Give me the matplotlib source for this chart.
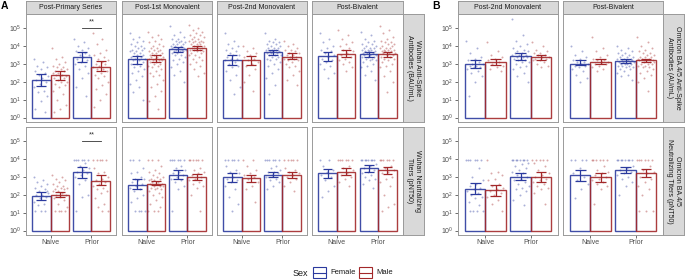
import numpy as np
import matplotlib
matplotlib.use('Agg')
import matplotlib.pyplot as plt
from matplotlib.patches import Rectangle

plt.rcParams['font.family'] = ['Liberation Sans', 'DejaVu Sans']
plt.rcParams['mathtext.default'] = 'regular'

BLUE = '#2B3A9E'
RED = '#A3282A'

groups = ['Naive', 'Prior']
sexes = ['Female', 'Male']

cols_A = ['Post-Primary Series', 'Post-1st Monovalent', 'Post-2nd Monovalent', 'Post-Bivalent']
cols_B = ['Post-2nd Monovalent', 'Post-Bivalent']
rows_A = ['Wuhan Anti-Spike\nAntibodies (BAU/mL)', 'Wuhan Neutralizing\nTiters (pNT50)']
rows_B = ['Omicron BA.4/5 Anti-Spike\nAntibodies (AU/mL)', 'Omicron BA.4/5\nNeutralizing Titers (pNT50)']

# log10 values, order in each row: Naive-F, Naive-M, Prior-F, Prior-M
a_spike_gm = [[2.11, 2.37, 3.39, 2.85], [3.27, 3.30, 3.83, 3.88], [3.23, 3.21, 3.64, 3.41], [3.43, 3.58, 3.56, 3.56]]
a_spike_lo = [[1.77, 2.11, 3.12, 2.61], [3.00, 3.08, 3.67, 3.75], [2.95, 2.95, 3.49, 3.27], [3.17, 3.39, 3.41, 3.41]]
a_spike_hi = [[2.44, 2.61, 3.69, 3.15], [3.45, 3.49, 3.97, 4.01], [3.50, 3.45, 3.79, 3.60], [3.66, 3.75, 3.67, 3.69]]

a_nt_gm = [[1.92, 2.01, 3.25, 2.78], [2.57, 2.63, 3.13, 2.97], [2.97, 2.91, 3.13, 3.10], [3.19, 3.28, 3.47, 3.36]]
a_nt_lo = [[1.68, 1.85, 2.91, 2.52], [2.30, 2.52, 2.89, 2.80], [2.69, 2.69, 3.00, 2.95], [2.95, 3.08, 3.30, 3.15]]
a_nt_hi = [[2.14, 2.18, 3.56, 3.08], [2.86, 2.78, 3.36, 3.17], [3.19, 3.12, 3.28, 3.25], [3.42, 3.47, 3.64, 3.56]]

b_spike_gm = [[3.00, 3.13, 3.45, 3.36], [3.02, 3.13, 3.15, 3.19]]
b_spike_lo = [[2.76, 2.93, 3.23, 3.21], [2.91, 3.00, 3.06, 3.08]]
b_spike_hi = [[3.23, 3.30, 3.60, 3.49], [3.19, 3.28, 3.26, 3.30]]

b_nt_gm = [[2.35, 2.24, 3.00, 2.97], [3.08, 2.98, 3.38, 3.19]]
b_nt_lo = [[2.03, 1.94, 2.82, 2.69], [2.76, 2.72, 3.22, 2.97]]
b_nt_hi = [[2.67, 2.54, 3.22, 3.25], [3.38, 3.22, 3.53, 3.43]]

# individual subjects (log10)
a_spike_pts = [
    [[3.3, 3.1, 2.9, 2.8, 2.7, 2.6, 2.5, 2.4, 2.3, 2.2, 2.1, 2.0, 1.9, 1.7, 1.5, 1.4, 1.2, 0.9, 0.5, 0.3],
     [3.9, 3.4, 3.3, 3.1, 3.0, 2.9, 2.8, 2.8, 2.7, 2.7, 2.6, 2.6, 2.5, 2.5, 2.4, 2.4, 2.3, 2.3, 2.2, 2.2,
      2.1, 2.0, 2.0, 1.9, 1.8, 1.7, 1.5, 1.3, 1.0, 0.7, 0.5, 0.3],
     [4.4, 4.2, 4.0, 3.9, 3.8, 3.7, 3.6, 3.5, 3.5, 3.4, 3.3, 3.2, 3.1, 3.0, 2.9, 2.7, 2.5, 2.2, 1.7, 1.2],
     [4.7, 4.4, 4.1, 3.8, 3.6, 3.5, 3.4, 3.3, 3.2, 3.1, 3.0, 3.0, 2.9, 2.8, 2.7, 2.7, 2.6, 2.5, 2.4, 2.3,
      2.2, 2.0, 1.8, 1.6, 1.3, 1.0, 0.6]],
    [[4.7, 4.5, 4.4, 4.3, 4.2, 4.1, 4.0, 4.0, 3.9, 3.9, 3.8, 3.8, 3.7, 3.7, 3.6, 3.6, 3.5, 3.5, 3.4, 3.4,
      3.3, 3.3, 3.2, 3.2, 3.1, 3.0, 3.0, 2.9, 2.8, 2.7, 2.6, 2.5, 2.3, 2.1, 1.9, 1.7, 1.4, 1.0],
     [4.8, 4.6, 4.5, 4.4, 4.3, 4.2, 4.1, 4.0, 4.0, 3.9, 3.9, 3.8, 3.8, 3.7, 3.7, 3.6, 3.6, 3.6, 3.5, 3.5,
      3.5, 3.4, 3.4, 3.4, 3.3, 3.3, 3.3, 3.2, 3.2, 3.2, 3.1, 3.1, 3.0, 3.0, 2.9, 2.9, 2.8, 2.7, 2.6, 2.5,
      2.4, 2.3, 2.1, 1.9, 1.7, 1.5, 1.2, 0.9, 0.5],
     [5.1, 4.8, 4.6, 4.5, 4.4, 4.4, 4.3, 4.3, 4.2, 4.2, 4.1, 4.1, 4.1, 4.0, 4.0, 4.0, 3.9, 3.9, 3.9, 3.8,
      3.8, 3.8, 3.7, 3.7, 3.7, 3.6, 3.6, 3.5, 3.5, 3.4, 3.3, 3.2, 3.1, 3.0, 2.8, 2.6, 2.4, 2.0],
     [5.2, 5.0, 4.9, 4.8, 4.7, 4.6, 4.6, 4.5, 4.5, 4.4, 4.4, 4.3, 4.3, 4.3, 4.2, 4.2, 4.2, 4.1, 4.1, 4.1,
      4.0, 4.0, 4.0, 3.9, 3.9, 3.9, 3.8, 3.8, 3.8, 3.7, 3.7, 3.6, 3.6, 3.5, 3.5, 3.4, 3.3, 3.2, 3.1, 3.0,
      2.9, 2.7, 2.5, 2.3]],
    [[4.7, 4.3, 4.1, 4.0, 3.9, 3.8, 3.7, 3.6, 3.5, 3.5, 3.4, 3.3, 3.3, 3.2, 3.1, 3.0, 2.9, 2.8, 2.6, 2.4,
      2.1, 1.7, 1.3],
     [4.0, 3.9, 3.7, 3.6, 3.5, 3.4, 3.3, 3.2, 3.1, 3.0, 2.9, 2.7, 2.4, 2.0, 1.5],
     [4.7, 4.4, 4.3, 4.2, 4.2, 4.1, 4.1, 4.0, 4.0, 3.9, 3.9, 3.9, 3.8, 3.8, 3.8, 3.7, 3.7, 3.7, 3.6, 3.6,
      3.6, 3.5, 3.5, 3.5, 3.4, 3.4, 3.3, 3.3, 3.2, 3.1, 3.0, 2.9, 2.7, 2.5, 2.2, 1.8, 1.3],
     [4.3, 4.1, 4.0, 3.9, 3.8, 3.8, 3.7, 3.6, 3.6, 3.5, 3.5, 3.4, 3.4, 3.3, 3.3, 3.2, 3.2, 3.1, 3.0, 2.9,
      2.8, 2.6, 2.4, 2.1, 1.8]],
    [[4.7, 4.4, 4.2, 4.0, 3.9, 3.8, 3.7, 3.6, 3.5, 3.4, 3.3, 3.2, 3.1, 3.0, 2.9, 2.7, 2.5, 2.2],
     [4.9, 4.6, 4.4, 4.2, 4.1, 4.0, 3.9, 3.8, 3.7, 3.6, 3.5, 3.4, 3.3, 3.2, 3.1, 3.0, 2.8, 2.6],
     [4.8, 4.6, 4.4, 4.3, 4.2, 4.1, 4.1, 4.0, 4.0, 3.9, 3.9, 3.9, 3.8, 3.8, 3.8, 3.7, 3.7, 3.7, 3.6, 3.6,
      3.6, 3.5, 3.5, 3.5, 3.4, 3.4, 3.4, 3.3, 3.3, 3.2, 3.2, 3.1, 3.0, 2.9, 2.8, 2.6, 2.4, 2.1],
     [5.1, 4.9, 4.7, 4.5, 4.4, 4.3, 4.2, 4.2, 4.1, 4.1, 4.0, 4.0, 3.9, 3.9, 3.9, 3.8, 3.8, 3.8, 3.7, 3.7,
      3.7, 3.6, 3.6, 3.6, 3.5, 3.5, 3.4, 3.4, 3.3, 3.3, 3.2, 3.1, 3.0, 2.9, 2.8, 2.6, 2.3, 2.0, 1.4]],
]

a_nt_pts = [
    [[3.0, 2.8, 2.7, 2.6, 2.5, 2.4, 2.3, 2.2, 2.1, 2.0, 2.0, 1.9, 1.8, 1.6, 1.5, 1.4, 2.2] + [1.08] * 3,
     [3.1, 3.0, 2.9, 2.8, 2.7, 2.6, 2.5, 2.5, 2.4, 2.4, 2.3, 2.3, 2.2, 2.2, 2.1, 2.0, 2.0, 1.9, 1.8, 1.7,
      1.5, 1.3] + [1.08] * 4,
     [3.97] * 6 + [3.8, 3.6, 3.5, 3.4, 3.3, 3.2, 3.1, 3.0, 2.8, 2.6, 2.0, 1.9, 1.08],
     [3.97] * 5 + [3.5, 3.3, 3.2, 3.0, 2.9, 2.8, 2.7, 2.6, 2.5, 2.4, 2.3, 2.2, 2.1, 1.8, 1.5, 1.3, 1.08, 1.08]],
    [[3.97] * 3 + [3.5, 3.3, 3.2, 3.0, 2.9, 2.9, 2.8, 2.7, 2.6, 2.5, 2.4, 2.3, 2.2, 2.0, 1.8, 1.6] + [1.08] * 4,
     [3.97] * 3 + [3.6, 3.4, 3.3, 3.2, 3.1, 3.0, 3.0, 2.9, 2.9, 2.8, 2.8, 2.7, 2.7, 2.6, 2.6, 2.6, 2.5,
                   2.5, 2.5, 2.4, 2.4, 2.3, 2.3, 2.2, 2.1, 2.0, 1.9, 1.7, 1.5, 1.3] + [1.08] * 3,
     [3.97] * 6 + [3.6, 3.5, 3.4, 3.3, 3.2, 3.1, 3.0, 2.9, 2.8, 2.7, 2.5, 2.3, 1.08],
     [3.97] * 6 + [3.5, 3.4, 3.3, 3.2, 3.1, 3.0, 2.9, 2.8, 2.7, 2.6, 2.5, 2.4, 2.0, 1.08]],
    [[3.97] * 5 + [3.6, 3.4, 3.3, 3.2, 3.0, 2.9, 2.8, 2.7, 2.5, 2.3, 1.9, 1.5, 1.08],
     [3.97] * 2 + [3.6, 3.4, 3.2, 3.1, 3.0, 2.9, 2.7, 2.5, 2.3, 1.6],
     [3.97] * 6 + [3.6, 3.5, 3.4, 3.3, 3.3, 3.2, 3.1, 3.0, 2.9, 2.8, 2.7, 2.5, 2.3],
     [3.97] * 5 + [3.5, 3.4, 3.3, 3.2, 3.1, 3.0, 2.9, 2.7, 2.5, 2.2]],
    [[3.97] * 2 + [3.6, 3.4, 3.3, 3.1, 3.0, 2.8, 2.5, 2.2, 1.9],
     [3.97] * 6 + [3.6, 3.5, 3.4, 3.2, 3.1, 3.0, 2.9, 2.7, 2.5],
     [3.97] * 8 + [3.7, 3.6, 3.5, 3.4, 3.3, 3.2, 3.1, 3.0, 2.9, 2.8, 2.6, 2.4],
     [3.97] * 6 + [3.6, 3.5, 3.4, 3.3, 3.2, 3.0, 2.9, 2.7, 2.5, 2.0, 1.5, 1.3, 1.08]],
]

b_spike_pts = [
    [[4.3, 3.9, 3.6, 3.4, 3.3, 3.2, 3.1, 3.0, 3.0, 2.9, 2.9, 2.8, 2.8, 2.7, 2.6, 2.5, 2.3, 2.0, 1.2],
     [4.2, 3.7, 3.5, 3.4, 3.3, 3.2, 3.1, 3.0, 2.9, 2.8, 2.7, 2.6],
     [5.5, 4.6, 4.3, 4.1, 4.0, 3.9, 3.8, 3.7, 3.7, 3.6, 3.6, 3.5, 3.5, 3.5, 3.4, 3.4, 3.4, 3.3, 3.3, 3.2,
      3.2, 3.1, 3.1, 3.0, 2.9, 2.8, 2.7, 2.5, 2.3, 2.0],
     [4.2, 4.0, 3.8, 3.7, 3.6, 3.6, 3.5, 3.5, 3.4, 3.4, 3.3, 3.3, 3.2, 3.2, 3.1, 3.0, 2.9, 2.8]],
    [[4.0, 3.7, 3.5, 3.4, 3.3, 3.2, 3.1, 3.1, 3.0, 3.0, 2.9, 2.9, 2.8, 2.7, 2.6, 2.4, 2.2, 2.0],
     [4.5, 3.9, 3.7, 3.5, 3.4, 3.3, 3.2, 3.2, 3.1, 3.1, 3.0, 3.0, 2.9, 2.8, 2.7, 2.6],
     [4.0, 3.9, 3.8, 3.7, 3.6, 3.6, 3.5, 3.5, 3.4, 3.4, 3.4, 3.3, 3.3, 3.3, 3.2, 3.2, 3.2, 3.2, 3.1, 3.1,
      3.1, 3.1, 3.0, 3.0, 3.0, 3.0, 2.9, 2.9, 2.9, 2.8, 2.8, 2.7, 2.7, 2.6, 2.5, 2.4, 2.3, 2.1],
     [4.5, 4.2, 4.0, 3.9, 3.8, 3.7, 3.6, 3.6, 3.5, 3.5, 3.4, 3.4, 3.4, 3.3, 3.3, 3.3, 3.2, 3.2, 3.2, 3.1,
      3.1, 3.1, 3.0, 3.0, 3.0, 2.9, 2.9, 2.8, 2.8, 2.7, 2.6, 2.5, 2.4, 2.2, 2.0, 1.5]],
]

b_nt_pts = [
    [[3.97] * 6 + [3.5, 3.0, 2.8, 2.6, 2.5, 2.4, 2.3, 2.2, 2.1, 2.0, 1.9, 1.8, 1.6, 1.4] + [1.08] * 4,
     [3.97, 3.3, 3.2, 3.1, 2.9, 2.8, 2.6, 2.5, 2.4, 2.3, 2.2, 2.1, 2.0, 1.9, 1.7, 1.5, 1.08],
     [3.97] * 8 + [3.8, 3.7, 3.6, 3.5, 3.4, 3.3, 3.2, 3.1, 3.0, 2.9, 2.8, 2.7, 2.6, 2.5, 2.4, 2.3, 2.2,
                   2.0, 1.7, 1.4],
     [3.97] * 5 + [3.8, 3.6, 3.4, 3.2, 3.1, 3.0, 2.9, 2.8, 2.7, 2.6, 2.5, 2.4, 2.3, 2.1, 1.5]],
    [[3.97] * 4 + [3.5, 3.2, 3.0, 2.8, 2.6, 2.3, 1.8],
     [3.97] * 6 + [3.6, 3.4, 3.3, 3.2, 3.1, 3.0, 2.9, 2.8, 2.7, 2.6, 2.5, 2.3, 1.5],
     [3.97] * 8 + [3.6, 3.5, 3.4, 3.3, 3.2, 3.1, 3.0, 2.9, 2.7, 2.5, 2.0],
     [3.97] * 6 + [3.6, 3.4, 3.3, 3.2, 3.0, 2.9, 2.7, 2.5, 2.3, 2.0] + [1.08] * 3],
]

W, H = 685, 280
fig = plt.figure(figsize=(W / 100, H / 100), dpi=100)


def box(x0, y0, x1, y1):
    return [x0 / W, 1 - y1 / H, (x1 - x0) / W, (y1 - y0) / H]


BORDER = '#9A9A9A'
STRIP = '#D9D9D9'
TXT = '#4D4D4D'


def draw_facet(ax, gm, lo, hi, pts, left, bottom):
    xs = [0.775, 1.225, 1.775, 2.225]
    colors = [BLUE, RED, BLUE, RED]
    for k in range(4):
        vals = np.array(pts[k])
        jit = ((np.arange(len(vals)) * 0.618) % 1 - 0.5) * 0.38  # jitter offsets
        ax.scatter(xs[k] + jit, 10 ** vals, s=2.0, color=colors[k], alpha=0.4, lw=0, zorder=1)
        ax.bar(xs[k], 10 ** gm[k] - 1, bottom=1, width=0.45, fill=False,
               edgecolor=colors[k], lw=1.0, alpha=0.9, zorder=2)
        ax.vlines(xs[k], 10 ** lo[k], 10 ** hi[k], color=colors[k], lw=0.9, zorder=3)
        ax.hlines([10 ** lo[k], 10 ** hi[k]], xs[k] - 0.12, xs[k] + 0.12, color=colors[k], lw=0.9, zorder=3)
    ax.set_yscale('log')
    ax.set_xlim(0.4, 2.6)
    ax.set_ylim(10 ** -0.25, 10 ** 5.79)
    ax.minorticks_off()
    for s in ax.spines.values():
        s.set_color(BORDER)
        s.set_linewidth(0.7)
    ax.tick_params(length=2, width=0.5, color='#333333', labelsize=5, labelcolor=TXT, pad=1.2)
    if left:
        ax.set_yticks([10 ** i for i in range(6)])
        ax.set_yticklabels([r'$10^{%d}$' % i for i in range(6)])
    else:
        ax.set_yticks([])
    if bottom:
        ax.set_xticks([1, 2])
        ax.set_xticklabels(groups)
    else:
        ax.set_xticks([])


def top_strip(x0, x1, label):
    s = fig.add_axes(box(x0, 1, x1, 14))
    s.set_facecolor(STRIP)
    s.set_xticks([])
    s.set_yticks([])
    for sp in s.spines.values():
        sp.set_color(BORDER)
        sp.set_linewidth(0.7)
    s.text(0.5, 0.5, label, ha='center', va='center', fontsize=5, color='#1A1A1A', transform=s.transAxes)


def right_strip(x0, x1, y0, y1, label):
    s = fig.add_axes(box(x0, y0, x1, y1))
    s.set_facecolor(STRIP)
    s.set_xticks([])
    s.set_yticks([])
    for sp in s.spines.values():
        sp.set_color(BORDER)
        sp.set_linewidth(0.7)
    s.text(0.5, 0.5, label, ha='center', va='center', rotation=-90, fontsize=5, color='#1A1A1A',
           linespacing=1.0, multialignment='center', transform=s.transAxes)


row_y = [(14, 122), (127, 235)]
cols_x_A = [(26, 116), (122, 212), (217, 307), (312, 403)]
cols_x_B = [(458, 558), (563, 663)]

# panel A
data_A = [(a_spike_gm, a_spike_lo, a_spike_hi, a_spike_pts), (a_nt_gm, a_nt_lo, a_nt_hi, a_nt_pts)]
for r, (gm, lo, hi, pts) in enumerate(data_A):
    for c, (x0, x1) in enumerate(cols_x_A):
        ax = fig.add_axes(box(x0, row_y[r][0], x1, row_y[r][1]))
        draw_facet(ax, gm[c], lo[c], hi[c], pts[c], c == 0, r == 1)
        if c == 0:
            # significance bracket Prior: Female vs Male
            ax.plot([1.775, 2.225], [10 ** 5.0, 10 ** 5.0], color='#333333', lw=0.6)
            ax.text(2.0, 10 ** 5.33, '**', ha='center', va='center', fontsize=5.5, color='#333333')
    right_strip(403, 424, row_y[r][0], row_y[r][1], rows_A[r])
for c, (x0, x1) in enumerate(cols_x_A):
    top_strip(x0, x1, cols_A[c])

# panel B
data_B = [(b_spike_gm, b_spike_lo, b_spike_hi, b_spike_pts), (b_nt_gm, b_nt_lo, b_nt_hi, b_nt_pts)]
for r, (gm, lo, hi, pts) in enumerate(data_B):
    for c, (x0, x1) in enumerate(cols_x_B):
        ax = fig.add_axes(box(x0, row_y[r][0], x1, row_y[r][1]))
        draw_facet(ax, gm[c], lo[c], hi[c], pts[c], c == 0, r == 1)
    right_strip(663, 684, row_y[r][0], row_y[r][1], rows_B[r])
for c, (x0, x1) in enumerate(cols_x_B):
    top_strip(x0, x1, cols_B[c])

# overlay for panel letters and legend
ov = fig.add_axes([0, 0, 1, 1], zorder=10)
ov.set_xlim(0, W)
ov.set_ylim(H, 0)
ov.axis('off')
ov.patch.set_alpha(0)
ov.text(4, 6, 'A', fontsize=7.5, fontweight='bold', ha='center', va='center')
ov.text(436, 6, 'B', fontsize=7.5, fontweight='bold', ha='center', va='center')

ov.text(293, 273, 'Sex', fontsize=6.5, ha='left', va='center', color='#1A1A1A')
for (kx, tx), sex, col in zip([(313, 330), (359, 376)], sexes, [BLUE, RED]):
    ov.add_patch(Rectangle((kx, 267), 13, 11, fill=False, edgecolor=col, lw=0.8))
    ov.plot([kx, kx + 13], [272.5, 272.5], color=col, lw=0.8)
    ov.text(tx, 273, sex, fontsize=5.5, ha='left', va='center', color='#1A1A1A')

fig.savefig('out.png', dpi=100)
